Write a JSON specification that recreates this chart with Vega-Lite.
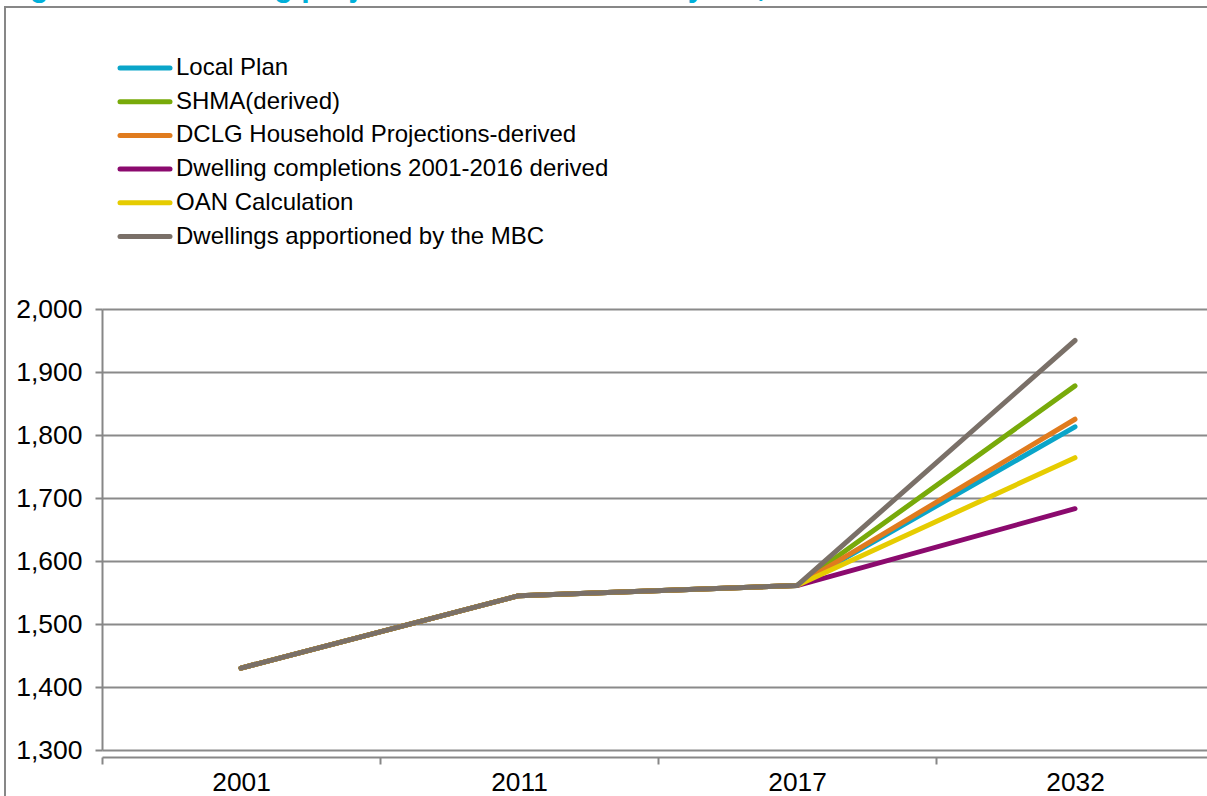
{
  "$schema": "https://vega.github.io/schema/vega-lite/v6.json",
  "autosize": "none",
  "width": 1206,
  "height": 793,
  "padding": {"left": 5, "top": 7, "right": -4, "bottom": -4},
  "background": "white",
  "title": {
    "text": "Figure 7-1: Dwelling projections for the Sowerby NA, 2011-2032",
    "anchor": "start",
    "frame": "group",
    "offset": 5,
    "dx": -2,
    "font": "Liberation Sans",
    "fontSize": 30.5,
    "fontWeight": "bold",
    "color": "#00B0DA"
  },
  "config": {
    "font": "Liberation Sans",
    "view": {"stroke": "#878787", "strokeWidth": 2}
  },
  "data": {
    "values": [
      {"year": "2001", "series": "Local Plan", "dwellings": 1430},
      {"year": "2011", "series": "Local Plan", "dwellings": 1545},
      {"year": "2017", "series": "Local Plan", "dwellings": 1561},
      {"year": "2032", "series": "Local Plan", "dwellings": 1813},
      {"year": "2001", "series": "SHMA(derived)", "dwellings": 1430},
      {"year": "2011", "series": "SHMA(derived)", "dwellings": 1545},
      {"year": "2017", "series": "SHMA(derived)", "dwellings": 1561},
      {"year": "2032", "series": "SHMA(derived)", "dwellings": 1878},
      {"year": "2001", "series": "DCLG Household Projections-derived", "dwellings": 1430},
      {"year": "2011", "series": "DCLG Household Projections-derived", "dwellings": 1545},
      {"year": "2017", "series": "DCLG Household Projections-derived", "dwellings": 1561},
      {"year": "2032", "series": "DCLG Household Projections-derived", "dwellings": 1825},
      {"year": "2001", "series": "Dwelling completions 2001-2016 derived", "dwellings": 1430},
      {"year": "2011", "series": "Dwelling completions 2001-2016 derived", "dwellings": 1545},
      {"year": "2017", "series": "Dwelling completions 2001-2016 derived", "dwellings": 1561},
      {"year": "2032", "series": "Dwelling completions 2001-2016 derived", "dwellings": 1683},
      {"year": "2001", "series": "OAN Calculation", "dwellings": 1430},
      {"year": "2011", "series": "OAN Calculation", "dwellings": 1545},
      {"year": "2017", "series": "OAN Calculation", "dwellings": 1561},
      {"year": "2032", "series": "OAN Calculation", "dwellings": 1764},
      {"year": "2001", "series": "Dwellings apportioned by the MBC", "dwellings": 1430},
      {"year": "2011", "series": "Dwellings apportioned by the MBC", "dwellings": 1545},
      {"year": "2017", "series": "Dwellings apportioned by the MBC", "dwellings": 1561},
      {"year": "2032", "series": "Dwellings apportioned by the MBC", "dwellings": 1950}
    ]
  },
  "mark": {"type": "line", "strokeWidth": 5, "strokeCap": "round", "strokeJoin": "round"},
  "encoding": {
    "x": {
      "field": "year",
      "type": "ordinal",
      "sort": null,
      "scale": {"type": "band", "range": [97, 1209], "paddingInner": 0, "paddingOuter": 0},
      "axis": {
        "title": null,
        "offset": -43,
        "labelAngle": 0,
        "labelFontSize": 26.3,
        "labelColor": "#000000",
        "labelPadding": 5,
        "tickBand": "extent",
        "tickSize": 7,
        "tickColor": "#878787",
        "tickWidth": 2,
        "domainColor": "#878787",
        "domainWidth": 2,
        "grid": false
      }
    },
    "y": {
      "field": "dwellings",
      "type": "quantitative",
      "scale": {"domain": [1300, 2000], "range": [743, 302], "nice": false, "zero": false},
      "axis": {
        "title": null,
        "offset": -97,
        "values": [1300, 1400, 1500, 1600, 1700, 1800, 1900, 2000],
        "format": ",.0f",
        "labelFontSize": 26.5,
        "labelColor": "#000000",
        "labelPadding": 13,
        "tickSize": 7,
        "tickColor": "#878787",
        "tickWidth": 2,
        "domainColor": "#878787",
        "domainWidth": 2,
        "grid": true,
        "gridColor": "#8a8a8a",
        "gridWidth": 2
      }
    },
    "color": {
      "field": "series",
      "type": "nominal",
      "sort": null,
      "scale": {
        "domain": ["Local Plan", "SHMA(derived)", "DCLG Household Projections-derived", "Dwelling completions 2001-2016 derived", "OAN Calculation", "Dwellings apportioned by the MBC"],
        "range": ["#0AA5C9", "#78AA0A", "#E07B1E", "#8B0A6E", "#E6CC00", "#7A7068"]
      },
      "legend": {
        "title": null,
        "orient": "none",
        "legendX": 125,
        "legendY": 46,
        "symbolType": "M-2,0H2",
        "symbolSize": 625,
        "symbolStrokeWidth": 5,
        "labelFontSize": 24,
        "labelColor": "#000000",
        "labelOffset": 16,
        "labelLimit": 800,
        "rowPadding": 6.7,
        "encode": {"symbols": {"update": {"strokeCap": {"value": "round"}}}}
      }
    }
  }
}
